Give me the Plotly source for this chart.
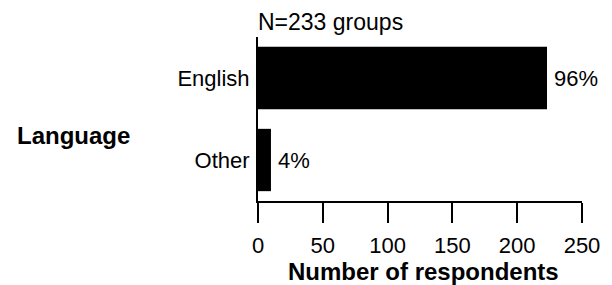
import plotly.graph_objects as go

categories = ["English", "Other"]
counts = [223, 10]
percent_labels = ["96%", "4%"]
x_tick_values = [0, 50, 100, 150, 200, 250]
x_tick_labels = ["0", "50", "100", "150", "200", "250"]
total_label = "N=233 groups"
y_group_title = "Language"
x_title = "Number of respondents"

FONT = "Liberation Sans, Arial, Helvetica, sans-serif"

fig = go.Figure(
    go.Bar(
        y=categories,
        x=counts,
        orientation="h",
        marker=dict(color="black", line=dict(width=0)),
        width=0.76,
        hoverinfo="skip",
    )
)

fig.update_layout(
    width=612,
    height=285,
    margin=dict(l=258, r=24, t=37, b=84),
    plot_bgcolor="white",
    paper_bgcolor="white",
    showlegend=False,
    font=dict(family=FONT, color="black", size=22),
)

fig.update_xaxes(
    range=[0, 250],
    tickvals=x_tick_values,
    ticktext=x_tick_labels,
    ticks="outside",
    ticklen=20,
    tickwidth=2,
    tickcolor="black",
    ticklabelstandoff=4,
    showline=True,
    linewidth=2,
    linecolor="black",
    showgrid=False,
    zeroline=False,
    tickfont=dict(size=22, family=FONT, color="black"),
)

fig.update_yaxes(
    categoryorder="array",
    categoryarray=categories,
    range=[1.5, -0.5],
    showline=True,
    linewidth=2,
    linecolor="black",
    ticks="",
    ticklabelstandoff=2,
    showgrid=False,
    zeroline=False,
    tickfont=dict(size=22, family=FONT, color="black"),
)

# percentage labels next to bar ends
for cat, val, lab in zip(categories, counts, percent_labels):
    fig.add_annotation(
        x=val, y=cat, xref="x", yref="y",
        text=lab, showarrow=False,
        xanchor="left", yanchor="middle", xshift=5,
        font=dict(size=22, family=FONT, color="black"),
    )

fig.add_annotation(
    x=0, y=(201 - 22) / 164, xref="paper", yref="paper",
    text=total_label, showarrow=False,
    xanchor="left", yanchor="middle", xshift=-2,
    font=dict(size=23, family=FONT, color="black"),
)

fig.add_annotation(
    x=(10 - 258) / 330, y=(201 - 135) / 164, xref="paper", yref="paper",
    text="<b>" + y_group_title + "</b>", showarrow=False,
    xanchor="left", yanchor="middle",
    font=dict(size=24, family=FONT, color="black"),
)

fig.add_annotation(
    x=(427 - 258) / 330, y=(201 - 271) / 164, xref="paper", yref="paper",
    text="<b>" + x_title + "</b>", showarrow=False,
    xanchor="center", yanchor="middle",
    font=dict(size=24, family=FONT, color="black"),
)

fig.write_html(
    "out.html",
    config={"displayModeBar": False},
    post_script="document.body.style.margin='0';document.body.style.overflow='hidden';",
)
